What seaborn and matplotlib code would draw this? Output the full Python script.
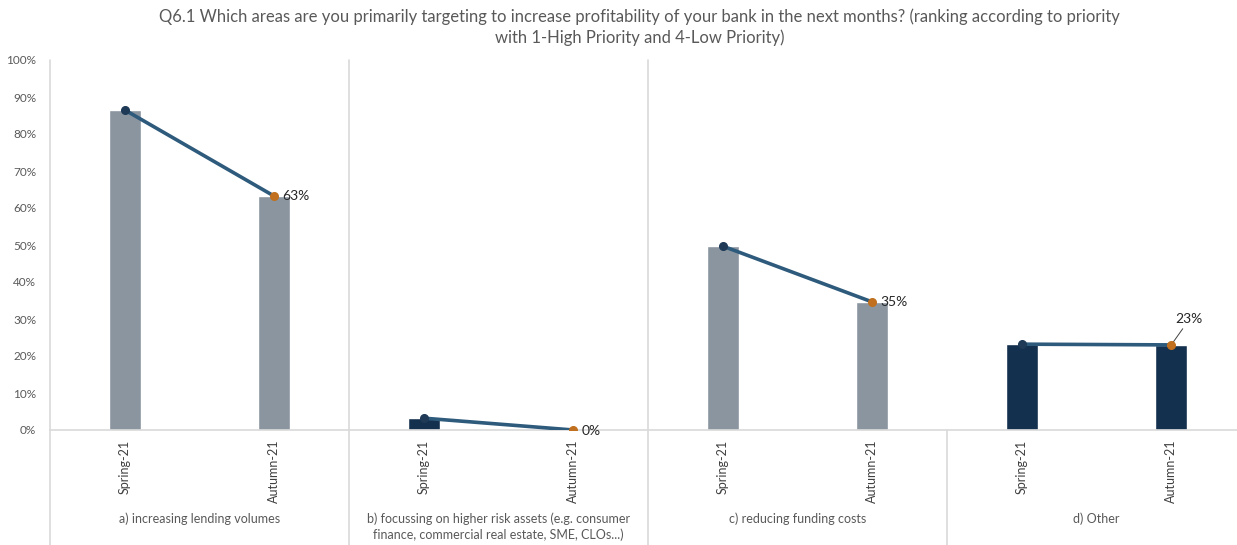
import numpy as np
import pandas as pd
import matplotlib
matplotlib.use("Agg")
import matplotlib.pyplot as plt
import seaborn as sns

# ------------------------------------------------------------
# Data
# ------------------------------------------------------------
groups = [
    "a) increasing lending volumes",
    "b) focussing on higher risk assets (e.g. consumer\nfinance, commercial real estate, SME, CLOs...)",
    "c) reducing funding costs",
    "d) Other",
]
periods = ["Spring-21", "Autumn-21"]
spring = [0.865, 0.032, 0.497, 0.232]
autumn = [0.632, 0.0, 0.346, 0.230]
end_labels = ["63%", "0%", "35%", "23%"]
bar_colors = ["#8A959F", "#14304F", "#8A959F", "#14304F"]

title = ("Q6.1 Which areas are you primarily targeting to increase profitability of your bank in the next months? (ranking according to priority\n"
         "with 1-High Priority and 4-Low Priority)")

# long table for seaborn
rows = []
for g, s, a in zip(groups, spring, autumn):
    rows.append({"group": g, "period": periods[0], "value": s})
    rows.append({"group": g, "period": periods[1], "value": a})
df = pd.DataFrame(rows)
df["pos"] = [f"{i}" for i in range(len(df))]
palette = {p: bar_colors[int(p) // 2] for p in df["pos"]}

# ------------------------------------------------------------
# Plot
# ------------------------------------------------------------
sns.set_theme(style="white")
plt.rcParams["font.family"] = ["Lato", "DejaVu Sans"]

W, H = 1237, 545
fig = plt.figure(figsize=(W / 100, H / 100), dpi=100)
x0, x1 = 50, 1246
y_top, y_zero = 60, 430
ax = fig.add_axes([x0 / W, (H - y_zero) / H, (x1 - x0) / W, (y_zero - y_top) / H])

sns.barplot(data=df, x="pos", y="value", hue="pos", palette=palette,
            width=0.215, legend=False, ax=ax, saturation=1)

# connecting lines + markers
for i in range(len(groups)):
    xs = [2 * i, 2 * i + 1]
    ys = [spring[i], autumn[i]]
    ax.plot(xs, ys, color="#2E5A7C", lw=2.6, zorder=3)
    ax.plot(xs[0], ys[0], "o", color="#1E3A56", ms=5.5, zorder=4)
    ax.plot(xs[1], ys[1], "o", color="#C0701E", ms=5.5, zorder=4)

# data labels
lab_kw = dict(textcoords="offset points", fontsize=10, color="#262626")
ax.annotate(end_labels[0], (1, autumn[0]), xytext=(6, 0), va="center", **lab_kw)
ax.annotate(end_labels[1], (3, autumn[1]), xytext=(6, -1), va="center", **lab_kw)
ax.annotate(end_labels[2], (5, autumn[2]), xytext=(6, 0), va="center", **lab_kw)
ax.annotate(end_labels[3], (7, autumn[3]), xytext=(13, 14), va="bottom", ha="center",
            arrowprops=dict(arrowstyle="-", color="#404040", lw=0.7, shrinkA=0, shrinkB=2),
            **lab_kw)

ax.set_xlim(-0.5, 7.5)
ax.set_ylim(0, 1.0)
ax.set_yticks(np.arange(0, 1.01, 0.1))
ax.set_yticklabels([f"{int(round(v * 100))}%" for v in np.arange(0, 1.01, 0.1)],
                   fontsize=8.5, color="#595959")
ax.set_xticks(range(8))
ax.set_xticklabels(periods * 4, rotation=90, fontsize=9, color="#404040", va="top")
ax.tick_params(axis="x", length=0, pad=7)
ax.tick_params(axis="y", length=0, pad=10)
ax.set_xlabel("")
ax.set_ylabel("")

for side in ["top", "right", "left"]:
    ax.spines[side].set_visible(False)
ax.spines["bottom"].set_color("#D9D9D9")
ax.spines["bottom"].set_linewidth(1.2)

# separators between groups
trans = ax.get_xaxis_transform()
below = -(H - y_zero) / (y_zero - y_top)
ax.plot([-0.5, -0.5], [below, 1], color="#D9D9D9", lw=1.2, transform=trans, clip_on=False)
ax.plot([1.5, 1.5], [below, 1], color="#D9D9D9", lw=1.2, transform=trans, clip_on=False)
ax.plot([3.5, 3.5], [below, 1], color="#D9D9D9", lw=1.2, transform=trans, clip_on=False)
ax.plot([5.5, 5.5], [below, 0], color="#D9D9D9", lw=1.2, transform=trans, clip_on=False)

# group labels
label_y = -(512 - y_zero) / (y_zero - y_top)
for i, g in enumerate(groups):
    ax.text(2 * i + 0.5, label_y, g, transform=trans, ha="center", va="top",
            fontsize=9, color="#595959", linespacing=1.35)

fig.text(0.517, 0.985, title, ha="center", va="top", fontsize=12, color="#595959",
         linespacing=1.35)

fig.savefig("out.png", dpi=100)
